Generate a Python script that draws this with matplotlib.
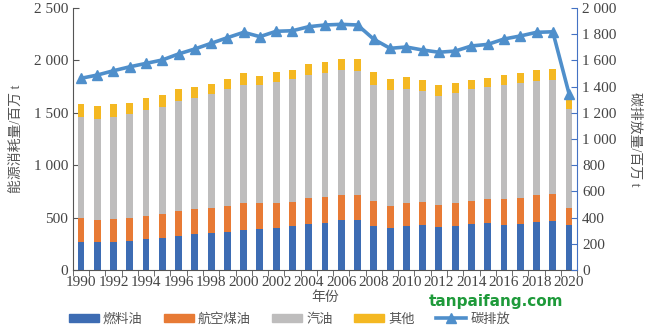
import numpy as np
import matplotlib.pyplot as plt
from matplotlib.ticker import FuncFormatter, MultipleLocator
from matplotlib.lines import Line2D
from matplotlib.patches import Patch

plt.rcParams['font.family'] = ['Liberation Serif', 'Noto Sans CJK SC', 'DejaVu Sans']

# Data
jaren = np.arange(1990, 2021)
stookolie = [270, 264, 270, 277, 296, 308, 327, 340, 350, 365, 384, 394, 401, 417, 442, 451,
             474, 474, 423, 404, 423, 429, 415, 423, 439, 445, 432, 439, 461, 467, 429]
kerosine = [223, 213, 214, 216, 222, 226, 239, 242, 244, 248, 258, 248, 241, 235, 245, 248,
            244, 241, 235, 209, 219, 223, 207, 213, 219, 232, 245, 251, 254, 258, 162]
benzine = [964, 964, 979, 992, 1008, 1024, 1049, 1056, 1085, 1117, 1123, 1120, 1155, 1173, 1176, 1180,
           1187, 1183, 1107, 1107, 1085, 1053, 1043, 1050, 1066, 1066, 1088, 1091, 1088, 1088, 942]
overig = [124, 124, 121, 111, 112, 112, 109, 105, 95, 95, 114, 89, 95, 83, 102, 105,
          108, 118, 124, 105, 111, 105, 102, 101, 86, 89, 95, 98, 108, 105, 95]
uitstoot = [1463, 1488, 1521, 1551, 1577, 1603, 1649, 1687, 1730, 1773, 1814, 1781, 1822, 1826, 1857, 1870,
            1875, 1870, 1761, 1692, 1702, 1679, 1662, 1671, 1710, 1722, 1763, 1786, 1814, 1818, 1345]
namen = ['燃料油', '航空煤油', '汽油', '其他', '碳排放']
kleuren = ['#3D6CB3', '#E77A35', '#BEBDBD', '#F4B822']
lijnkleur = '#4F8FCB'

fig = plt.figure(figsize=(6.5, 3.31), dpi=100)
ax = fig.add_axes([0.112, 0.184, 0.776, 0.792])

# Gestapelde staven
onder = np.zeros(len(jaren))
for reeks, kleur in zip([stookolie, kerosine, benzine, overig], kleuren):
    ax.bar(jaren, reeks, bottom=onder, width=0.42, color=kleur, zorder=2)
    onder += np.array(reeks)

ax.set_xlim(1989.57, 2020.43)
ax.set_ylim(0, 2500)
ax.yaxis.set_major_locator(MultipleLocator(500))
spatie = FuncFormatter(lambda v, p: f'{int(v):,}'.replace(',', ' '))
ax.yaxis.set_major_formatter(spatie)
ax.set_xticks(jaren[::2])
ax.set_xticks(np.arange(1989.5, 2021, 1), minor=True)
ax.tick_params(axis='x', which='major', length=0, labelsize=11, pad=4)
ax.tick_params(axis='x', which='minor', length=4, direction='out', color='#555555')
ax.tick_params(axis='y', direction='in', length=4, labelsize=11, color='#555555')
ax.spines['top'].set_visible(False)
ax.spines['right'].set_visible(False)
ax.spines['left'].set_color('#555555')
ax.spines['bottom'].set_color('#555555')
ax.set_xlabel('年份', fontsize=10, color='#555555', labelpad=2)
ax.set_ylabel('能源消耗量/百万 t', fontsize=10, color='#555555', labelpad=8)
for lbl in ax.get_xticklabels() + ax.get_yticklabels():
    lbl.set_color('#444444')

# Koolstofuitstoot op rechteras
ax2 = ax.twinx()
ax2.plot(jaren, uitstoot, color=lijnkleur, lw=2.6, marker='^', markersize=6.5, zorder=3)
ax2.set_ylim(0, 2000)
ax2.yaxis.set_major_locator(MultipleLocator(200))
ax2.yaxis.set_major_formatter(spatie)
ax2.tick_params(axis='y', direction='in', length=4, labelsize=11, color='#4472C4', labelcolor='#444444')
for s in ['top', 'left', 'bottom']:
    ax2.spines[s].set_visible(False)
ax2.spines['right'].set_color('#4472C4')
ax2.set_ylabel('碳排放量/百万 t', fontsize=10, color='#555555', rotation=270, labelpad=18)

# Legenda
handles = [Patch(color=k) for k in kleuren]
handles.append(Line2D([], [], color=lijnkleur, lw=2.6, marker='^', markersize=6.5))
fig.legend(handles, namen, loc='center', bbox_to_anchor=(0.445, 0.035), ncol=5, frameon=False,
           fontsize=9.5, handlelength=2.3, handleheight=0.6, columnspacing=1.6, handletextpad=0.3,
           labelcolor='#555555')

fig.text(0.66, 0.088, 'tanpaifang.com', color='#1E9A3A', fontsize=11, fontweight='bold',
         family='DejaVu Sans', va='center')

fig.savefig('out.png', dpi=100)
